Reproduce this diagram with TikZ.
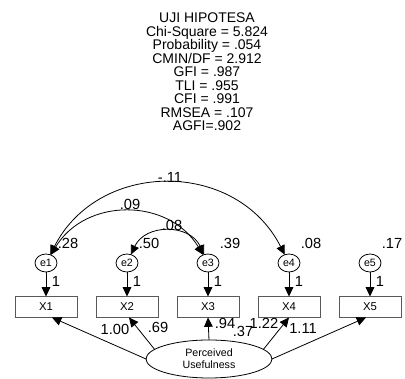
\documentclass[tikz,border=0pt]{standalone}
\usepackage{fontspec}
\setmainfont{Liberation Sans}
\usetikzlibrary{arrows.meta,shapes.geometric,calc}
\begin{document}
\begin{tikzpicture}[x=0.75pt,y=0.75pt,
  every node/.style={inner sep=0pt,outer sep=0pt},
  ln/.style={line width=0.6pt},
  err/.style={draw,ellipse,ln,minimum width=16.5pt,minimum height=13.5pt,font=\fontsize{8}{9}\selectfont},
  obs/.style={draw=black!65,rectangle,ln,minimum width=46.5pt,minimum height=15.75pt,font=\fontsize{8.5}{10}\selectfont},
  lat/.style={draw,ellipse,ln,fill=white,minimum width=94.5pt,minimum height=28.5pt,font=\fontsize{8}{9}\selectfont,align=center},
  est/.style={font=\fontsize{11}{12}\selectfont},
  tip/.style={ln,-{Triangle[length=7pt,width=6.5pt]}},
  cov/.style={ln,{Triangle[length=7pt,width=6.5pt]}-{Triangle[length=7pt,width=6.5pt]}}
]
\useasboundingbox (0,0) rectangle (405,379);
\node[align=center,font=\fontsize{10.5}{10.1}\selectfont] (title) at (207,307)
 {UJI HIPOTESA\\Chi-Square = 5.824\\Probability = .054\\CMIN/DF = 2.912\\GFI = .987\\TLI = .955\\CFI = .991\\RMSEA = .107\\AGFI=.902};
% error terms
\node[err] (e1) at (46,116) {e1};
\node[err] (e2) at (127,116) {e2};
\node[err] (e3) at (208,116) {e3};
\node[err] (e4) at (289,116) {e4};
\node[err] (e5) at (370,116) {e5};
% observed
\node[obs] (x1) at (46,72) {X1};
\node[obs] (x2) at (127,72) {X2};
\node[obs] (x3) at (208,72) {X3};
\node[obs] (x4) at (289,72) {X4};
\node[obs] (x5) at (370,72) {X5};
% latent
\node[lat] (pu) at (209,20) {Perceived\\Usefulness};
% variances
\node[est] (v1) at (68,136) {.28};
\node[est] (v2) at (149,136) {.50};
\node[est] (v3) at (230,136) {.39};
\node[est] (v4) at (311,136) {.08};
\node[est] (v5) at (392,136) {.17};
% error paths
\foreach \i in {1,...,5}{
  \draw[tip] (e\i) -- (x\i);
  \node[est] (o\i) at ($(e\i)+(10,-18)$) {1};
}
% covariances
\draw[cov] (e1) to[bend left=63,looseness=1.17] (e4);
\draw[cov] (e1) to[bend left=59,looseness=1.13] (e3);
\draw[cov] (e2) to[bend left=65,looseness=1.2] (e3);
\node[est] (c14) at (170,202) {-.11};
\node[est] (c13) at (130,175) {.09};
\node[est] (c23) at (172,154) {.08};
% loadings
\draw[tip] (pu.west) -- ($(x1.south)+(6,0)$);
\draw[tip] (pu.170) -- ($(x2.south)+(2,0)$);
\draw[tip] (pu.north) -- (x3.south);
\draw[tip] (pu.10) -- (x4.south);
\draw[tip] (pu.east) -- ($(x5.south)+(-4,0)$);
\node[est] (l1) at (115,50) {1.00};
\node[est] (l2) at (158,52) {.69};
\node[est] (l3) at (225,56) {.94};
\node[est] (l4) at (243,48) {.37};
\node[est] (l5) at (264,56) {1.22};
\node[est] (l6) at (303,51) {1.11};
\end{tikzpicture}
\end{document}
